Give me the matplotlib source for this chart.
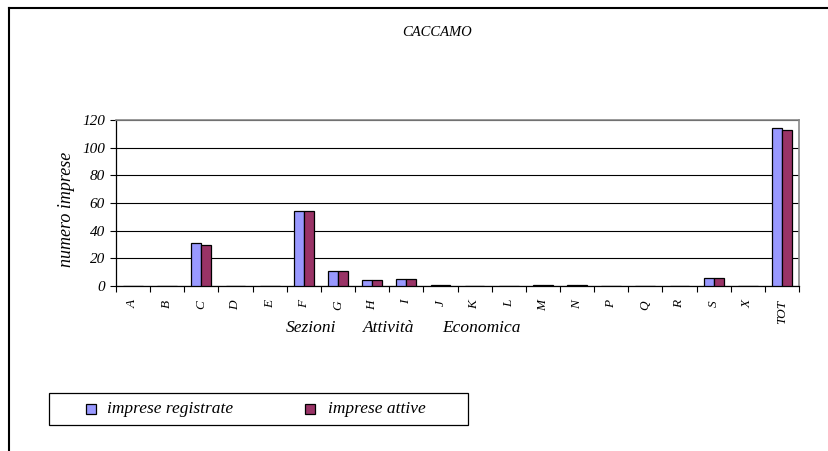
import matplotlib
matplotlib.use("Agg")
import matplotlib.pyplot as plt
from matplotlib.lines import Line2D
from matplotlib.patches import Rectangle
import numpy as np

categories = ["A", "B", "C", "D", "E", "F", "G", "H", "I", "J", "K", "L",
              "M", "N", "P", "Q", "R", "S", "X", "TOT"]
registrate = [0, 0, 31, 0, 0, 54, 11, 4, 5, 1, 0, 0, 1, 1, 0, 0, 0, 6, 0, 114]
attive = [0, 0, 30, 0, 0, 54, 11, 4, 5, 1, 0, 0, 1, 1, 0, 0, 0, 6, 0, 113]
series_names = ['imprese registrate', 'imprese attive']
series_colors = ['#9999FF', '#993366']
yticks = [0, 20, 40, 60, 80, 100, 120]

plt.rcParams['font.family'] = ['Liberation Serif', 'DejaVu Serif']
plt.rcParams['font.style'] = 'italic'

W, H = 829, 451
fig = plt.figure(figsize=(W / 100, H / 100), dpi=100)


def fx(px):
    return px / W


def fy(py):
    return 1 - py / H


# figure border (top and left)
fig.add_artist(Line2D([fx(9), 1.0], [fy(8), fy(8)], color='black', lw=1.5))
fig.add_artist(Line2D([fx(9), fx(9)], [0, fy(8)], color='black', lw=1.5))

ax = fig.add_axes([fx(116), fy(286), (799 - 116) / W, (286 - 120) / H])
x = np.arange(len(categories))
bw = 0.29
ax.bar(x - bw / 2, registrate, bw, color=series_colors[0], edgecolor='black',
       lw=0.9, zorder=3)
ax.bar(x + bw / 2, attive, bw, color=series_colors[1], edgecolor='black',
       lw=0.9, zorder=3)

ax.set_xlim(-0.5, len(categories) - 0.5)
ax.set_ylim(0, 120)
ax.set_yticks(yticks)
ax.set_yticklabels([str(v) for v in yticks], fontsize=11)
ax.yaxis.grid(True, color='black', lw=0.8, zorder=0)
ax.set_axisbelow(True)

ax.set_xticks(x)
ax.set_xticklabels(categories, rotation=90, fontsize=9.5)
ax.set_xticks(np.arange(len(categories) + 1) - 0.5, minor=True)
ax.tick_params(axis='x', which='major', length=0, pad=10)
ax.tick_params(axis='x', which='minor', length=4, width=0.8, direction='out')
ax.tick_params(axis='y', length=4, width=0.8, direction='out', pad=4)

for s in ['top', 'right']:
    ax.spines[s].set_color('#888888')
    ax.spines[s].set_linewidth(1.2)
for s in ['left', 'bottom']:
    ax.spines[s].set_color('black')
    ax.spines[s].set_linewidth(0.9)

fig.text(fx(67), fy(209), 'numero imprese', rotation=90, ha='center',
         va='center', fontsize=13)

fig.text(fx(437), fy(33), 'CACCAMO', ha='center', va='center', fontsize=10.5)
for word, xc in [('Sezioni', 311.5), ('Attività', 389), ('Economica', 481)]:
    fig.text(fx(xc), fy(328), word, ha='center', va='center', fontsize=12.5)

# legend (drawn manually to match box geometry)
fig.add_artist(Rectangle((fx(49), fy(425)), (468 - 49) / W, (425 - 393) / H,
                         transform=fig.transFigure, facecolor='white',
                         edgecolor='black', lw=0.9))
for name, col, mx, tx in zip(series_names, series_colors, [86, 305], [107, 328]):
    fig.add_artist(Rectangle((fx(mx), fy(414)), 10 / W, 10 / H,
                             transform=fig.transFigure, facecolor=col,
                             edgecolor='black', lw=0.9))
    fig.text(fx(tx), fy(409), name, ha='left', va='center', fontsize=12.5)

fig.savefig('out.png', dpi=100)
